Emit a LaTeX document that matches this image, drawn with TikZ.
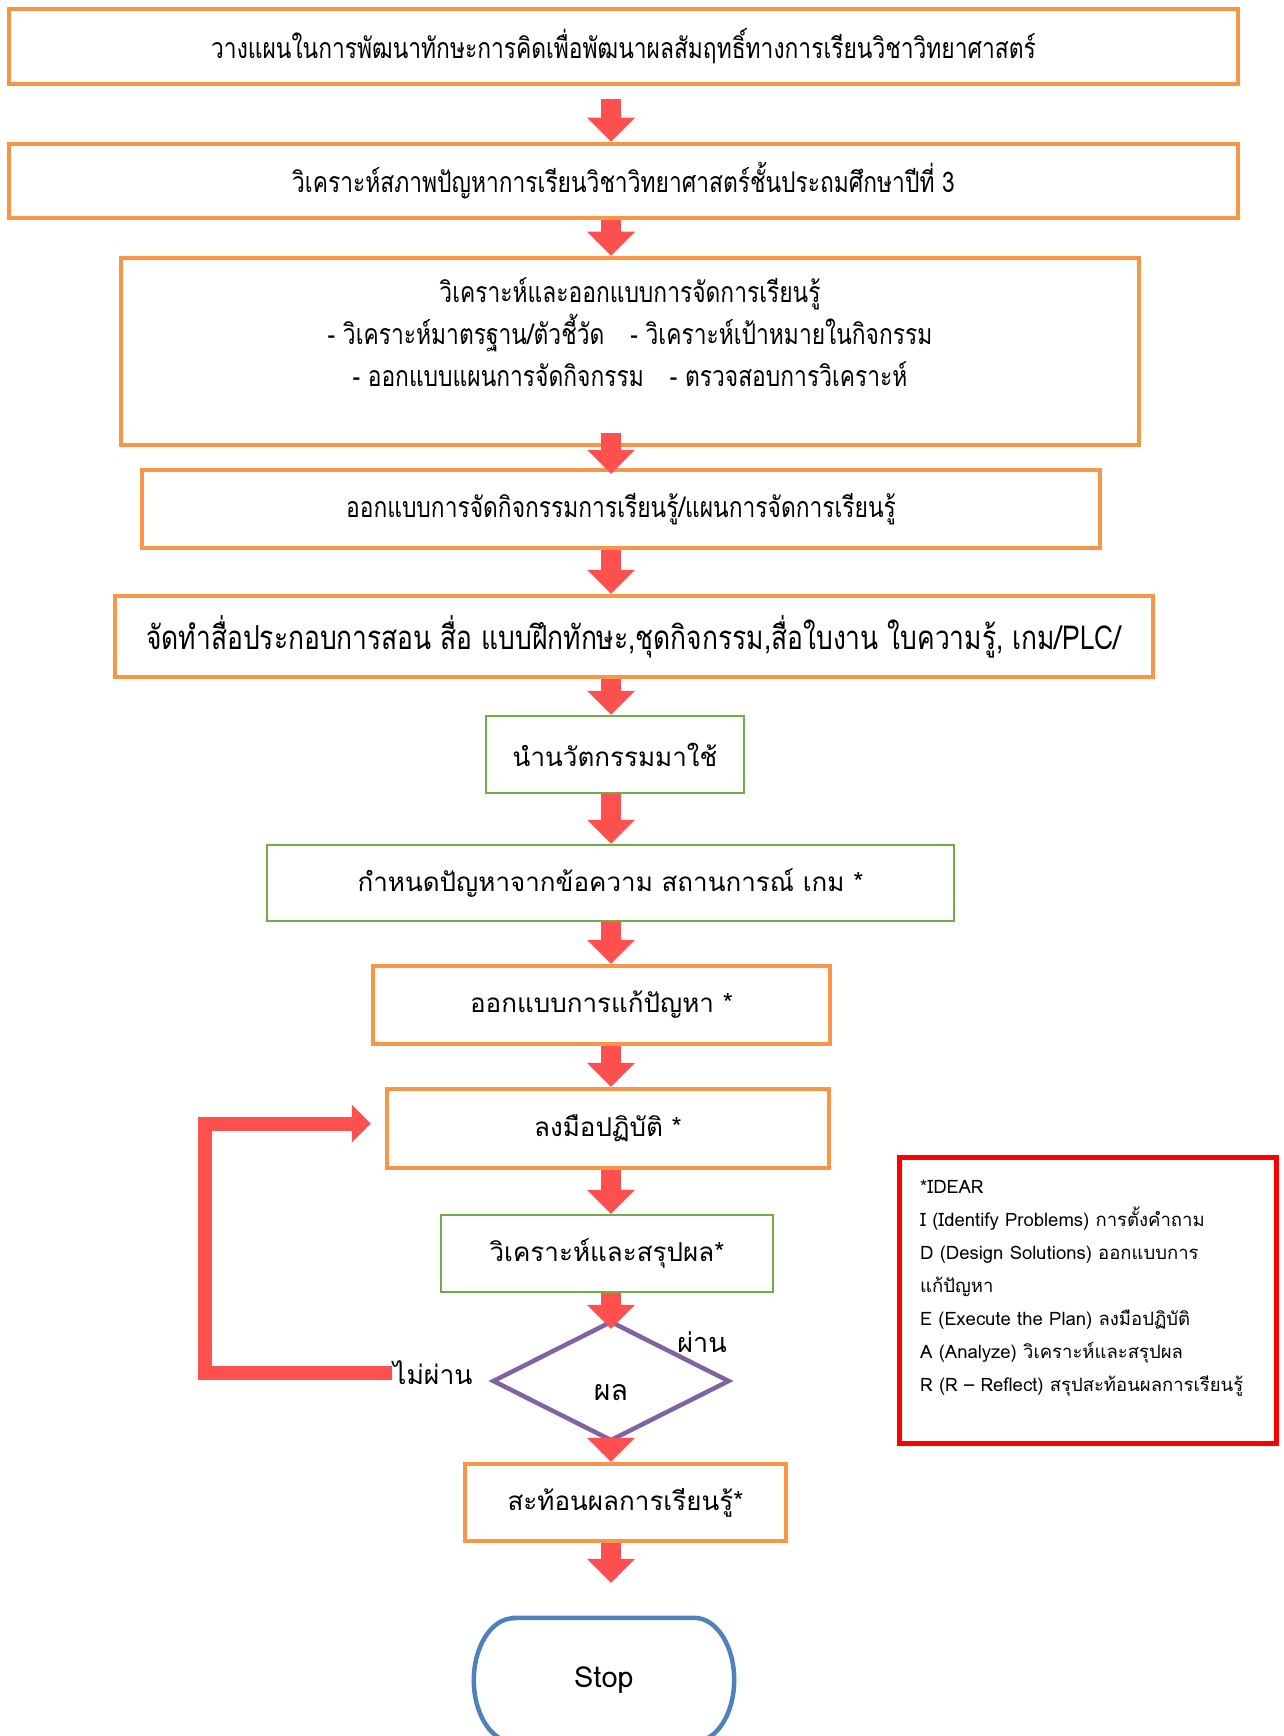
\documentclass[tikz,border=0pt]{standalone}
\usepackage{fontspec}
\setmainfont[Script=Thai]{Loma}
\newfontfamily\narrowthai[Script=Thai,FakeStretch=0.8]{Loma}
\usetikzlibrary{arrows.meta,shapes.geometric}
\definecolor{boxorange}{HTML}{F79646}
\definecolor{boxgreen}{HTML}{70AD47}
\definecolor{flowred}{HTML}{FF5050}
\definecolor{decpurple}{HTML}{8064A2}
\definecolor{stopblue}{HTML}{4F81BD}
\definecolor{notered}{HTML}{FF0000}
\begin{document}
\begin{tikzpicture}[x=1pt,y=-1pt,
  obox/.style={draw=boxorange,line width=4.5pt,inner sep=0pt,align=center},
  gbox/.style={draw=boxgreen,line width=2.5pt,inner sep=0pt,align=center},
  upper/.style={font=\narrowthai\fontsize{28.5}{42}\selectfont},
  lower/.style={font=\fontsize{26}{30}\selectfont},
  flow/.style={draw=flowred,line width=20pt,-{Triangle[width=48pt,length=24pt,line width=0pt]}},
  loopback/.style={draw=flowred,line width=14pt,-{Triangle[width=38pt,length=19pt,line width=0pt]}}]
\useasboundingbox (0,0) rectangle (1283,1736);
\coordinate (spine) at (611,0);
\coordinate (loopx) at (205,0);
% planning part
\node[obox,upper,minimum width=1229,minimum height=75] (plan) at (623.5,46.5)
  {วางแผนในการพัฒนาทักษะการคิดเพื่อพัฒนาผลสัมฤทธิ์ทางการเรียนวิชาวิทยาศาสตร์};
\node[obox,upper,minimum width=1229,minimum height=74] (survey) at (623.5,181)
  {วิเคราะห์สภาพปัญหาการเรียนวิชาวิทยาศาสตร์ชั้นประถมศึกษาปีที่ 3};
\node[obox,minimum width=1018,minimum height=187] (design) at (630,351.5) {};
\node[upper,align=center,anchor=north] (designtext) at (630,274)
  {วิเคราะห์และออกแบบการจัดการเรียนรู้\\
   - วิเคราะห์มาตรฐาน/ตัวชี้วัด\hspace{26pt}- วิเคราะห์เป้าหมายในกิจกรรม\\
   - ออกแบบแผนการจัดกิจกรรม\hspace{26pt}- ตรวจสอบการวิเคราะห์};
\node[obox,upper,minimum width=958,minimum height=78] (activity) at (621,509)
  {ออกแบบการจัดกิจกรรมการเรียนรู้/แผนการจัดการเรียนรู้};
\node[obox,upper,font=\narrowthai\fontsize{33}{36}\selectfont,minimum width=1038,minimum height=81] (media) at (634,636.5)
  {จัดทำสื่อประกอบการสอน สื่อ แบบฝึกทักษะ,ชุดกิจกรรม,สื่อใบงาน ใบความรู้, เกม/PLC/};
% IDEAR part
\node[gbox,lower,minimum width=258,minimum height=77] (innov) at (615,754.5) {นำนวัตกรรมมาใช้};
\node[gbox,lower,minimum width=687,minimum height=76] (problem) at (610.5,883) {กำหนดปัญหาจากข้อความ สถานการณ์ เกม *};
\node[obox,lower,minimum width=457,minimum height=78] (solve) at (601.5,1005) {ออกแบบการแก้ปัญหา *};
\node[obox,lower,minimum width=442,minimum height=79] (practice) at (608,1128.5) {ลงมือปฏิบัติ *};
\node[gbox,lower,minimum width=332,minimum height=77] (analyze) at (607,1253.5) {วิเคราะห์และสรุปผล*};
\node[diamond,draw=decpurple,line width=4.5pt,minimum width=237,minimum height=120,inner sep=0pt] (result) at (611,1381) {};
\node[font=\fontsize{28.5}{30}\selectfont,inner sep=0pt] (resultlabel) at ([yshift=-12pt]result.center) {ผล};
\node[obox,lower,minimum width=321,minimum height=77] (reflect) at (625.5,1502.5) {สะท้อนผลการเรียนรู้*};
\node[font=\fontsize{29}{32}\selectfont,minimum width=260,minimum height=124] (stop) at (604,1680) {Stop};
\draw[stopblue,line width=4.5pt] ([xshift=40pt]stop.north west) -- ([xshift=-40pt]stop.north east)
  arc[start angle=90,end angle=-90,x radius=40pt,y radius=62pt]
  -- ([xshift=40pt]stop.south west)
  arc[start angle=270,end angle=90,x radius=40pt,y radius=62pt] -- cycle;
\node[font=\fontsize{26.5}{30}\selectfont,inner sep=1pt,anchor=west] (nopass) at (392,1373) {ไม่ผ่าน};
\node[font=\fontsize{27}{30}\selectfont,inner sep=1pt] (pass) at (702,1342) {ผ่าน};
% note
\node[draw=notered,line width=4.5pt,minimum width=377,minimum height=286,anchor=north west] (idear) at (897,1155) {};
\node[font=\fontsize{18.5}{33}\selectfont,align=left,anchor=north west,inner sep=0pt] (ideartext) at (920,1180)
  {*IDEAR\\
   I (Identify Problems) การตั้งคำถาม\\
   D (Design Solutions) ออกแบบการ\\
   แก้ปัญหา\\
   E (Execute the Plan) ลงมือปฏิบัติ\\
   A (Analyze) วิเคราะห์และสรุปผล\\
   R (R – Reflect) สรุปสะท้อนผลการเรียนรู้};
% arrows
\draw[flow,shorten <=13pt] (plan.south -| spine) -- (survey.north -| spine);
\draw[flow] (survey.south -| spine) -- (design.north -| spine);
\draw[flow,shorten <=-14pt,shorten >=-6pt] (design.south -| spine) -- (activity.north -| spine);
\draw[flow] (activity.south -| spine) -- (media.north -| spine);
\draw[flow] (media.south -| spine) -- (innov.north -| spine);
\draw[flow] (innov.south -| spine) -- (problem.north -| spine);
\draw[flow] (problem.south -| spine) -- (solve.north -| spine);
\draw[flow] (solve.south -| spine) -- (practice.north -| spine);
\draw[flow] (practice.south -| spine) -- (analyze.north -| spine);
\draw[flow,shorten >=-10pt] (analyze.south -| spine) -- (result.north -| spine);
\draw[flow,shorten <=-10pt] (result.south -| spine) -- (reflect.north -| spine);
\draw[flow,shorten >=35pt] (reflect.south -| spine) -- (stop.north -| spine);
% loop back
\draw[loopback,shorten >=14pt] (nopass.west) -- (nopass.west -| loopx) |- ([yshift=5pt]practice.west);
\end{tikzpicture}
\end{document}
